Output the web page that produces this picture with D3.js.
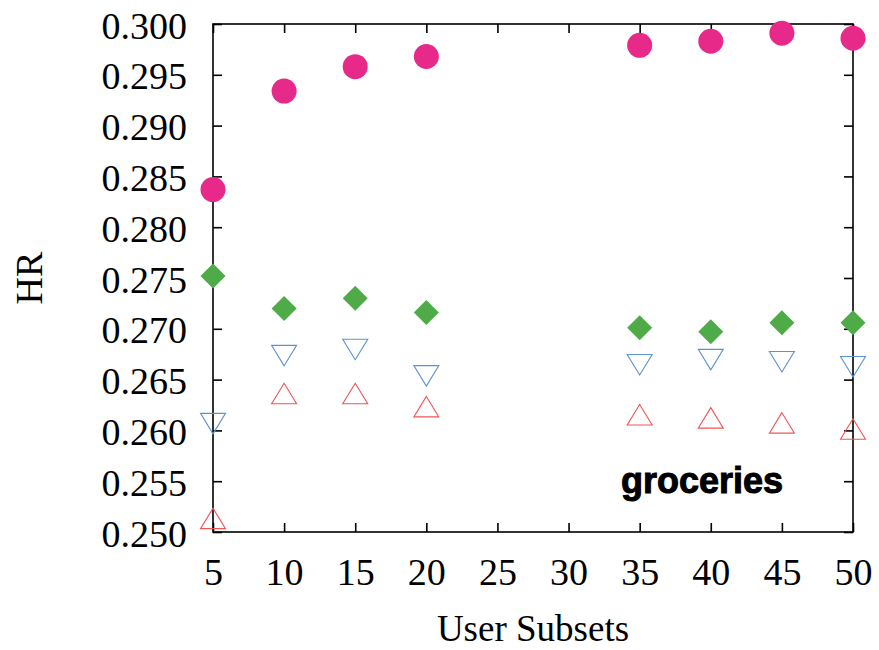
<!DOCTYPE html>
<html>
<head>
<meta charset="utf-8">
<script src="https://cdn.jsdelivr.net/npm/d3@7"></script>
<style>
  html, body { margin: 0; padding: 0; background: #fff; }
  svg { display: block; }
</style>
</head>
<body>
<svg id="chart" width="879" height="650"></svg>
<script>
// User subset sizes on the x axis
const subsets = [5, 10, 15, 20, 35, 40, 45, 50];

// Hit rate of each method for every subset size
const hrCircle   = [0.2837, 0.2934, 0.2958, 0.2968, 0.2979, 0.2983, 0.2991, 0.2986];
const hrDiamond  = [0.2752, 0.2720, 0.2730, 0.2716, 0.2701, 0.2697, 0.2706, 0.2706];
const hrTriDown  = [0.2610, 0.2677, 0.2683, 0.2657, 0.2668, 0.2673, 0.2671, 0.2666];
const hrTriUp    = [0.2510, 0.2633, 0.2633, 0.2620, 0.2612, 0.2609, 0.2604, 0.2598];

// Axis ticks
const xTicks = [5, 10, 15, 20, 25, 30, 35, 40, 45, 50];
const yTicks = [0.250, 0.255, 0.260, 0.265, 0.270, 0.275, 0.280, 0.285, 0.290, 0.295, 0.300];

const svg = d3.select("#chart");
const margin = { left: 213, right: 26, top: 24, bottom: 118 };
const W = 879, H = 650;
const x0 = margin.left, x1 = W - margin.right, y0 = H - margin.bottom, y1 = margin.top;

const x = d3.scaleLinear().domain([5, 50]).range([x0, x1]);
const y = d3.scaleLinear().domain([0.25, 0.30]).range([y0, y1]);

const serif = "'Liberation Serif', 'Times New Roman', serif";
const tickLen = 9;

// Frame
svg.append("rect")
  .attr("x", x0).attr("y", y1)
  .attr("width", x1 - x0).attr("height", y0 - y1)
  .attr("fill", "none").attr("stroke", "#000").attr("stroke-width", 1.6);

// Inward ticks on all four sides
const axisStyle = g => {
  g.select(".domain").remove();
  g.selectAll(".tick line").attr("stroke", "#000").attr("stroke-width", 1.6);
};

svg.append("g").attr("transform", `translate(0,${y0})`)
  .call(d3.axisBottom(x).tickValues(xTicks).tickSize(-tickLen).tickFormat(d3.format("d")).tickPadding(0))
  .call(axisStyle)
  .call(g => g.selectAll(".tick text")
    .attr("y", 53).attr("dy", null)
    .attr("font-family", serif).attr("font-size", 38).attr("fill", "#000"));

svg.append("g").attr("transform", `translate(0,${y1})`)
  .call(d3.axisTop(x).tickValues(xTicks).tickSize(-tickLen).tickFormat(""))
  .call(axisStyle);

svg.append("g").attr("transform", `translate(${x0},0)`)
  .call(d3.axisLeft(y).tickValues(yTicks).tickSize(-tickLen).tickFormat(d3.format(".3f")).tickPadding(0))
  .call(axisStyle)
  .call(g => g.selectAll(".tick text")
    .attr("x", -26).attr("dy", 14)
    .attr("font-family", serif).attr("font-size", 38).attr("fill", "#000"));

svg.append("g").attr("transform", `translate(${x1},0)`)
  .call(d3.axisRight(y).tickValues(yTicks).tickSize(-tickLen).tickFormat(""))
  .call(axisStyle);

// Axis titles
svg.append("text")
  .attr("x", (x0 + x1) / 2).attr("y", 641)
  .attr("text-anchor", "middle")
  .attr("font-family", serif).attr("font-size", 37)
  .text("User Subsets");

svg.append("text")
  .attr("transform", `translate(42,${(y0 + y1) / 2}) rotate(-90)`)
  .attr("text-anchor", "middle")
  .attr("font-family", serif).attr("font-size", 38)
  .text("HR");

// Dataset label
svg.append("text")
  .attr("x", 621).attr("y", 493)
  .attr("font-family", "'Liberation Sans', Arial, sans-serif")
  .attr("font-weight", "bold").attr("font-size", 36)
  .attr("stroke", "#000").attr("stroke-width", 1)
  .text("groceries");

// Marker shapes
const triW = 25, triH = 20.5;
const triUpPath = `M0,${-triH * 2 / 3}L${triW / 2},${triH / 3}L${-triW / 2},${triH / 3}Z`;
const triDownPath = `M0,${triH * 2 / 3}L${triW / 2},${-triH / 3}L${-triW / 2},${-triH / 3}Z`;
const dR = 12.5;
const diamondPath = `M0,${-dR}L${dR},0L0,${dR}L${-dR},0Z`;

const pts = vals => subsets.map((s, i) => ({ s, v: vals[i] }));

svg.append("g").selectAll("path").data(pts(hrTriUp)).join("path")
  .attr("d", triUpPath)
  .attr("transform", d => `translate(${x(d.s)},${y(d.v)})`)
  .attr("fill", "none").attr("stroke", "#ef5656").attr("stroke-width", 1.1);

svg.append("g").selectAll("path").data(pts(hrTriDown)).join("path")
  .attr("d", triDownPath)
  .attr("transform", d => `translate(${x(d.s)},${y(d.v)})`)
  .attr("fill", "none").attr("stroke", "#5b93d2").attr("stroke-width", 1.1);

svg.append("g").selectAll("path").data(pts(hrDiamond)).join("path")
  .attr("d", diamondPath)
  .attr("transform", d => `translate(${x(d.s)},${y(d.v)})`)
  .attr("fill", "#4eab47");

svg.append("g").selectAll("circle").data(pts(hrCircle)).join("circle")
  .attr("cx", d => x(d.s)).attr("cy", d => y(d.v)).attr("r", 12.5)
  .attr("fill", "#e7298a");
</script>
</body>
</html>
